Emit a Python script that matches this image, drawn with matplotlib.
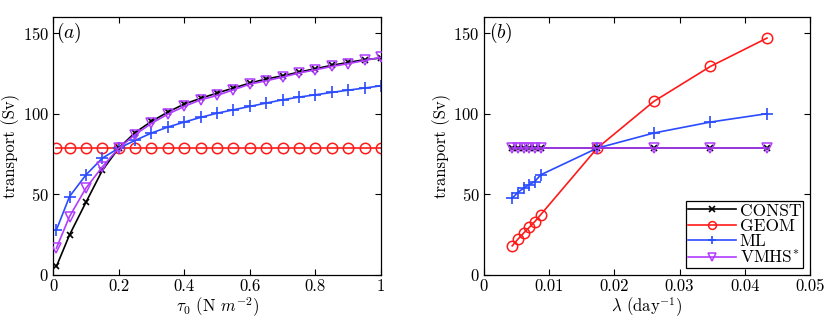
import numpy as np
import matplotlib
matplotlib.use("Agg")
import matplotlib.pyplot as plt

plt.rcParams['font.family'] = 'cmr10'
plt.rcParams['mathtext.fontset'] = 'cm'
plt.rcParams['axes.unicode_minus'] = False
plt.rcParams['axes.formatter.use_mathtext'] = True
plt.rcParams['font.size'] = 12

# panel (a): wind stress tau_0
tau = [0.01, 0.05, 0.1, 0.15, 0.2, 0.25, 0.3, 0.35, 0.4, 0.45, 0.5,
       0.55, 0.6, 0.65, 0.7, 0.75, 0.8, 0.85, 0.9, 0.95, 1.0]
const_a = [5.2, 24.8, 45, 64.8, 78.6, 88.3, 95.2, 101, 106, 109.5, 112.8,
           115.9, 119, 121.5, 123.5, 125.8, 127.9, 130, 131.8, 133.5, 134.5]
geom_a = [78.6] * 21
ml_a = [27.9, 48.6, 62, 72.4, 78.6, 83.4, 88, 91.7, 94.8, 97.7, 100.3,
        102.4, 104.5, 106.6, 108.6, 110.3, 111.7, 113.2, 114.6, 115.9, 117.3]
vmhs_a = [16.6, 36.2, 53.8, 67, 78.6, 87, 94, 99.7, 104.5, 108.6, 111.3,
          114.8, 118.3, 120.4, 122.7, 125.2, 127.2, 129.3, 131, 133, 135]

# panel (b): damping rate lambda
lam = [0.00434, 0.00521, 0.00608, 0.00694, 0.00781, 0.00868,
       0.01736, 0.02604, 0.03472, 0.0434]
const_b = [78.6] * 10
geom_b = [18, 22.1, 25.9, 29.4, 33.1, 37.2, 78.6, 107.6, 129.3, 146.9]
ml_b = [47.6, 51.1, 53.8, 55.9, 57.9, 62, 78.6, 88, 94.8, 100]
vmhs_b = [78.6] * 10

c_const = 'black'
c_geom = '#ff1a1a'
c_ml = '#2a4bff'
c_vmhs = '#b03cff'

fig = plt.figure(figsize=(8.3, 3.2), dpi=100)
ax1 = fig.add_axes([0.064, 0.141, 0.395, 0.806])
ax2 = fig.add_axes([0.583, 0.141, 0.393, 0.806])


def draw(ax, x, const, geom, ml, vmhs):
    ax.plot(x, const, color=c_const, marker='x', ms=5, mew=1.2, lw=1.2, label='CONST', zorder=3)
    ax.plot(x, geom, color=c_geom, marker='o', ms=7.5, mfc='none', mew=1.1, lw=1.2, label='GEOM', zorder=2)
    ax.plot(x, ml, color=c_ml, marker='+', ms=8, mew=1.2, lw=1.2, label='ML', zorder=2)
    ax.plot(x, vmhs, color=c_vmhs, marker='v', ms=7.5, mfc='none', mew=1.1, lw=1.2,
            label=r'VMHS$^{*}$', zorder=4)
    ax.set_ylim(0, 160)
    ax.set_yticks([0, 50, 100, 150])
    ax.set_ylabel('transport (Sv)', labelpad=2)
    ax.tick_params(direction='in', top=True, right=True, length=4, labelsize=12, pad=3)
    for s in ax.spines.values():
        s.set_linewidth(0.9)


draw(ax1, tau, const_a, geom_a, ml_a, vmhs_a)
ax1.set_xlim(0, 1)
ax1.set_xticks([0, 0.2, 0.4, 0.6, 0.8, 1])
ax1.set_xticklabels(['0', '0.2', '0.4', '0.6', '0.8', '1'])
ax1.set_xlabel(r'$\tau_0$ (N $m^{-2}$)', labelpad=1)
ax1.text(0.008, 150, r'$(a)$', fontsize=14, va='center', ha='left')

draw(ax2, lam, const_b, geom_b, ml_b, vmhs_b)
ax2.set_xlim(0, 0.05)
ax2.set_xticks([0, 0.01, 0.02, 0.03, 0.04, 0.05])
ax2.set_xticklabels(['0', '0.01', '0.02', '0.03', '0.04', '0.05'])
ax2.set_xlabel(r'$\lambda$ (day$^{-1}$)', labelpad=1)
ax2.text(0.0008, 150, r'$(b)$', fontsize=14, va='center', ha='left')
leg = ax2.legend(loc='lower right', fancybox=False, edgecolor='black', framealpha=1,
                 borderpad=0.1, handlelength=2.8, handletextpad=0.2, labelspacing=0.0,
                 borderaxespad=0.4, markerscale=0.75, fontsize=12.5)
leg.get_frame().set_linewidth(0.9)

fig.savefig('out.png', dpi=100)
